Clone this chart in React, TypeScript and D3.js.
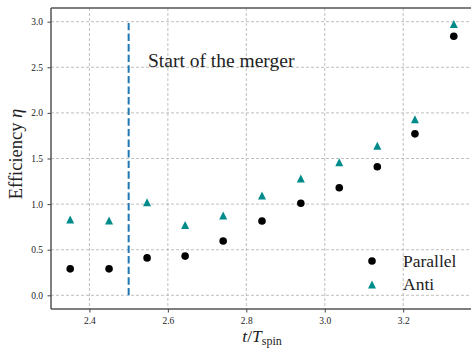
import React, { useEffect, useRef } from "react";
import { scaleLinear, axisBottom, axisLeft, select } from "d3";

// time in units of T_spin
const times = [2.351, 2.45, 2.547, 2.644, 2.741, 2.84, 2.939, 3.037, 3.134, 3.23, 3.329];
const parallel = [0.29, 0.29, 0.41, 0.43, 0.595, 0.815, 1.01, 1.18, 1.41, 1.77, 2.84];
const anti = [0.83, 0.82, 1.02, 0.77, 0.875, 1.095, 1.28, 1.46, 1.64, 1.93, 2.975];
const xTicks = [2.4, 2.6, 2.8, 3.0, 3.2];
const yTicks = [0, 0.5, 1.0, 1.5, 2.0, 2.5, 3.0];
const mergerTime = 2.5;
const legendItems = ["Parallel", "Anti"];

const width = 471,
  height = 348;
const margin = { top: 8, left: 51, bottom: 309, right: 473 };
const serif = "'Liberation Serif', 'Times New Roman', serif";
const teal = "#008b8b";

function triangle(s: number) {
  return `M0,${-s}L${s},${s}L${-s},${s}Z`;
}

function EfficiencyChart() {
  const xAxisRef = useRef<SVGGElement>(null);
  const yAxisRef = useRef<SVGGElement>(null);

  const xScale = scaleLinear().domain([2.302, 3.378]).range([margin.left, margin.right]);
  const yScale = scaleLinear().domain([-0.15, 3.15]).range([margin.bottom, margin.top]);

  useEffect(() => {
    const xAxis = axisBottom(xScale)
      .tickValues(xTicks)
      .tickFormat(d => (+d).toFixed(1))
      .tickSizeOuter(0)
      .tickSize(3.5)
      .tickPadding(4.8);
    const yAxis = axisLeft(yScale)
      .tickValues(yTicks)
      .tickFormat(d => (+d).toFixed(1))
      .tickSizeOuter(0)
      .tickSize(3.5)
      .tickPadding(4.5);

    const gx = select(xAxisRef.current!).call(xAxis as any);
    const gy = select(yAxisRef.current!).call(yAxis as any);
    [gx, gy].forEach(g => {
      g.attr("font-family", serif);
      g.select(".domain").remove();
      g.selectAll("line").attr("stroke", "#444").attr("stroke-width", 1);
      g.selectAll("text")
        .attr("fill", "#222")
        .style("font-family", serif)
        .style("font-size", "9.5px");
    });
  }, []);

  return (
    <g>
      {/* grid */}
      {xTicks.map(t => (
        <line
          key={"gx" + t}
          x1={xScale(t)}
          x2={xScale(t)}
          y1={margin.top}
          y2={margin.bottom}
          stroke="#b0b0b0"
          strokeWidth={0.8}
          strokeDasharray="3,2"
        />
      ))}
      {yTicks.map(t => (
        <line
          key={"gy" + t}
          x1={margin.left}
          x2={margin.right}
          y1={yScale(t)}
          y2={yScale(t)}
          stroke="#b0b0b0"
          strokeWidth={0.8}
          strokeDasharray="3,2"
        />
      ))}

      <line
        x1={xScale(mergerTime)}
        x2={xScale(mergerTime)}
        y1={yScale(0)}
        y2={yScale(3)}
        stroke="#1f77b4"
        strokeWidth={2}
        strokeDasharray="7.4,3.2"
      />

      {times.map((t, i) => (
        <circle key={"p" + i} cx={xScale(t)} cy={yScale(parallel[i])} r={3.8} fill="black" />
      ))}
      {times.map((t, i) => (
        <path
          key={"a" + i}
          d={triangle(4)}
          transform={`translate(${xScale(t)},${yScale(anti[i])})`}
          fill={teal}
        />
      ))}

      <text x={148} y={66.7} fontFamily={serif} fontSize={19.5} fill="#222">
        Start of the merger
      </text>

      {/* legend */}
      {legendItems.map((name, i) => (
        <g key={name} transform={`translate(372,${261 + i * 23.5})`}>
          {i === 0 ? <circle r={3.8} fill="black" /> : <path d={triangle(4)} fill={teal} />}
          <text x={31} y={5.8} fontFamily={serif} fontSize={17.5} fill="#222">
            {name}
          </text>
        </g>
      ))}

      {/* spines */}
      <line x1={margin.left} x2={margin.right} y1={margin.top} y2={margin.top} stroke="#555" strokeWidth={1.5} />
      <line x1={margin.left} x2={margin.right} y1={margin.bottom} y2={margin.bottom} stroke="#555" strokeWidth={1.5} />
      <line x1={margin.left} x2={margin.left} y1={margin.top} y2={margin.bottom} stroke="#555" strokeWidth={1.5} />

      <g ref={xAxisRef} transform={`translate(0,${margin.bottom})`} />
      <g ref={yAxisRef} transform={`translate(${margin.left},0)`} />

      <text
        transform="translate(22,154) rotate(-90)"
        textAnchor="middle"
        fontFamily={serif}
        fontSize={18.5}
        fill="#222"
      >
        Efficiency <tspan fontStyle="italic">η</tspan>
      </text>

      <text x={262} y={342} textAnchor="middle" fontFamily={serif} fontSize={17.5} fill="#222">
        <tspan fontStyle="italic">t</tspan>/<tspan fontStyle="italic">T</tspan>
        <tspan fontSize={12} dy={2.5}>spin</tspan>
      </text>
    </g>
  );
}

export default function App() {
  return (
    <svg width={width} height={height} style={{ position: "absolute", left: 0, top: 0, background: "white" }}>
      <EfficiencyChart />
    </svg>
  );
}
